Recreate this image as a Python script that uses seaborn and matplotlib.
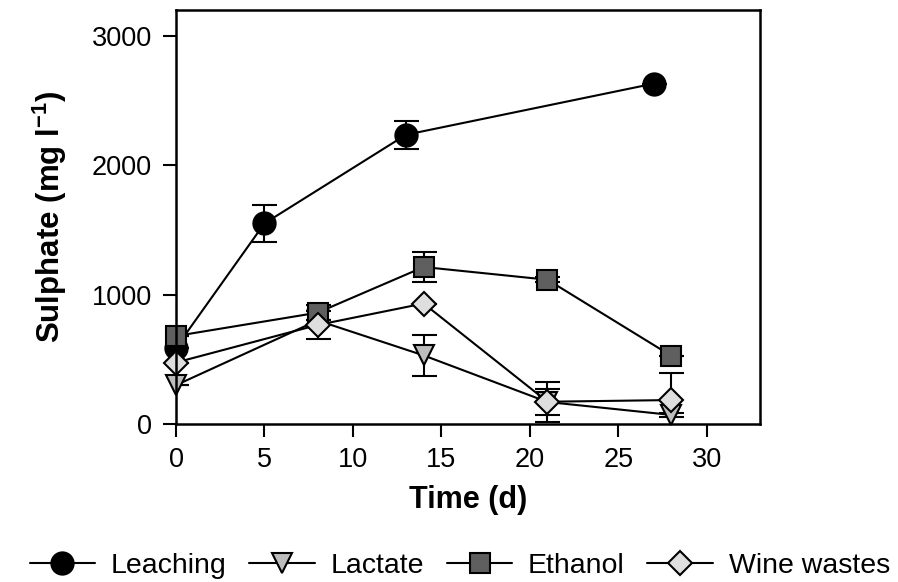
import matplotlib
matplotlib.use("Agg")
import matplotlib.pyplot as plt
import seaborn as sns

# sampling days
days_leach = [0, 5, 13, 27]
days = [0, 8, 14, 21, 28]

# sulphate (mg/l)
leaching = [590, 1550, 2235, 2630]
leaching_err = [0, 140, 110, 0]
lactate = [300, 800, 530, 170, 70]
lactate_err = [0, 0, 160, 155, 15]
ethanol = [680, 860, 1213, 1115, 527]
ethanol_err = [0, 60, 118, 20, 0]
wine = [475, 765, 931, 172, 185]
wine_err = [0, 110, 0, 100, 211]

series_names = ["Leaching", "Lactate", "Ethanol", "Wine wastes"]
x_ticks = [0, 5, 10, 15, 20, 25, 30]
y_ticks = [0, 1000, 2000, 3000]

sns.set_style("ticks")
plt.rcParams["font.family"] = ["Liberation Sans", "DejaVu Sans"]
plt.rcParams["mathtext.fontset"] = "custom"
plt.rcParams["mathtext.rm"] = "Liberation Sans"
plt.rcParams["mathtext.bf"] = "Liberation Sans:bold"
plt.rcParams["text.color"] = "black"
plt.rcParams["axes.labelcolor"] = "black"
plt.rcParams["xtick.color"] = "black"
plt.rcParams["ytick.color"] = "black"

fig = plt.figure(figsize=(8.98, 5.82), dpi=100)
ax = fig.add_axes([0.196, 0.2715, 0.65, 0.7115])

styles = [
    (days_leach, leaching, leaching_err, "o", "black", 16),
    (days, lactate, lactate_err, "v", "#bdbdbd", 15),
    (days, ethanol, ethanol_err, "s", "#5f5f5f", 14),
    (days, wine, wine_err, "D", "#dedede", 12.5),
]

handles = []
for name, (xs, ys, es, mk, col, ms) in zip(series_names, styles):
    ax.errorbar(xs, ys, yerr=es, fmt="none", ecolor="black", elinewidth=1.5,
                capsize=9, capthick=1.5, zorder=1.5)
    sns.lineplot(x=xs, y=ys, ax=ax, color="black", linewidth=1.5, marker=mk,
                 markersize=ms, mfc=col, mec="black", mew=1.5, label=name,
                 legend=False, zorder=2, clip_on=False)
    handles.append(ax.lines[-1])

ax.set_xlim(0, 33)
ax.set_ylim(0, 3200)
ax.set_xticks(x_ticks)
ax.set_yticks(y_ticks)
ax.tick_params(direction="out", length=9.5, width=1.5, labelsize=19.5)
ax.tick_params(axis="y", pad=8)
ax.tick_params(axis="x", pad=7)
for sp in ax.spines.values():
    sp.set_linewidth(1.8)
    sp.set_color("black")

ax.set_xlabel("Time (d)", fontsize=22, fontweight="bold", labelpad=9)
ax.set_ylabel(r"Sulphate (mg l$^{\mathbf{-1}}$)", fontsize=22.5,
              fontweight="bold", labelpad=16)

fig.legend(handles, series_names, loc="center", bbox_to_anchor=(0.512, 0.028),
           ncol=4, frameon=False, fontsize=20.5, handlelength=2.3,
           handletextpad=0.55, columnspacing=0.8, borderaxespad=0)

fig.savefig("out.png", dpi=100)
